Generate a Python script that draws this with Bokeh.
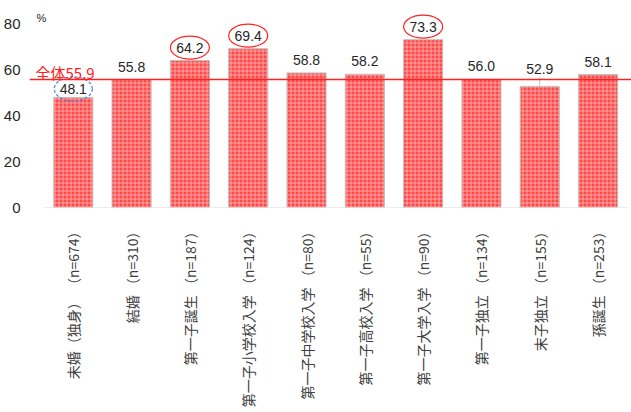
import math
from bokeh.plotting import figure
from bokeh.models import Range1d, FixedTicker, Label, Span
from bokeh.core.properties import value
from bokeh.embed import file_html
from bokeh.resources import INLINE

categories = ["未婚（独身） （n=674）", "結婚 （n=310）", "第一子誕生 （n=187）",
              "第一子小学校入学 （n=124）", "第一子中学校入学 （n=80）", "第一子高校入学 （n=55）",
              "第一子大学入学 （n=90）", "第一子独立 （n=134）", "末子独立 （n=155）", "孫誕生 （n=253）"]
values = [48.1, 55.8, 64.2, 69.4, 58.8, 58.2, 73.3, 56.0, 52.9, 58.1]
total = 55.9
y_ticks = [0, 20, 40, 60, 80]
red_marked = [2, 3, 6]
blue_marked = [0]
raised_labels = [8]

W, H = 631, 412
left, top, bottom = 26, 1, 207
px_x = 58.6
ymax = 90.0
px_y = (bottom - top) / ymax
x0 = -44 / px_x
x1 = x0 + (W - left) / px_x

p = figure(width=W, height=H, output_backend="svg", toolbar_location=None,
           x_range=Range1d(x0, x1), y_range=Range1d(0, ymax),
           min_border_left=left, min_border_right=0, min_border_top=top,
           min_border_bottom=H - bottom)
p.outline_line_color = None
p.xgrid.grid_line_color = None
p.ygrid.grid_line_color = None
p.background_fill_color = "white"

xs = list(range(len(categories)))
p.vbar(x=xs, top=values, width=0.67, bottom=0,
       fill_color="#ff4a4a", line_color="#bfbfbf", line_width=1,
       hatch_pattern="cross", hatch_color="white", hatch_alpha=0.45,
       hatch_scale=4, hatch_weight=1)

# baseline
p.segment(x0=[-0.5], x1=[len(categories) - 0.5], y0=[0], y1=[0],
          line_color="#d9d9d9", line_width=1)

# total line
p.add_layout(Span(location=total, dimension="width", line_color="#ff2020", line_width=1.5))
p.add_layout(Label(x=x0, y=total, x_offset=6, y_offset=7, text="全体55.9",
                   text_font="Noto Sans CJK JP", text_font_size="15px",
                   text_color="#ff2020", text_baseline="alphabetic"))

# value labels (offset in px of label centre above bar top)
offsets = []
for i, v in enumerate(values):
    if i in blue_marked:
        offsets.append(8.5)
    elif i in raised_labels:
        offsets.append(17)
    else:
        offsets.append(13)
label_y = [v + offsets[i] / px_y for i, v in enumerate(values)]
p.text(x=xs, y=label_y, text=[f"{v:.1f}" for v in values],
       text_font=value("Liberation Sans"), text_font_size="14px",
       text_color="#262626", text_align="center", text_baseline="middle")
for i in raised_labels:
    v = values[i]
    p.segment(x0=[i], x1=[i], y0=[v], y1=[v + (offsets[i] - 8) / px_y],
              line_color="#bfbfbf", line_width=1)

# ellipses
p.ellipse(x=red_marked, y=[label_y[i] for i in red_marked],
          width=39, height=23, width_units="screen", height_units="screen",
          fill_color=None, line_color="#ff2020", line_width=1.2)
p.ellipse(x=blue_marked, y=[label_y[i] for i in blue_marked],
          width=38, height=24, width_units="screen", height_units="screen",
          fill_color=None, line_color="#4a86e8", line_width=1.2, line_dash="3 2")

p.add_layout(Label(x=x0, y=ymax, x_offset=7, y_offset=-16, text="%",
                   text_font="Liberation Sans", text_font_size="11px",
                   text_color="#262626", text_baseline="alphabetic"))

# axes
p.yaxis.ticker = FixedTicker(ticks=y_ticks)
p.yaxis.axis_line_color = None
p.yaxis.major_tick_line_color = None
p.yaxis.minor_tick_line_color = None
p.yaxis.major_label_standoff = 3
p.yaxis.major_label_text_font = "Liberation Sans"
p.yaxis.major_label_text_font_size = "15px"
p.yaxis.major_label_text_color = "#262626"

p.xaxis.ticker = FixedTicker(ticks=xs)
p.xaxis.major_label_overrides = {i: c for i, c in enumerate(categories)}
p.xaxis.major_label_orientation = math.pi / 2
p.xaxis.axis_line_color = None
p.xaxis.major_tick_line_color = None
p.xaxis.minor_tick_line_color = None
p.xaxis.major_label_standoff = 11
p.xaxis.major_label_text_font = "Noto Sans CJK JP"
p.xaxis.major_label_text_font_size = "14px"
p.xaxis.major_label_text_color = "#404040"

open("out.html", "w").write(file_html(p, INLINE))
